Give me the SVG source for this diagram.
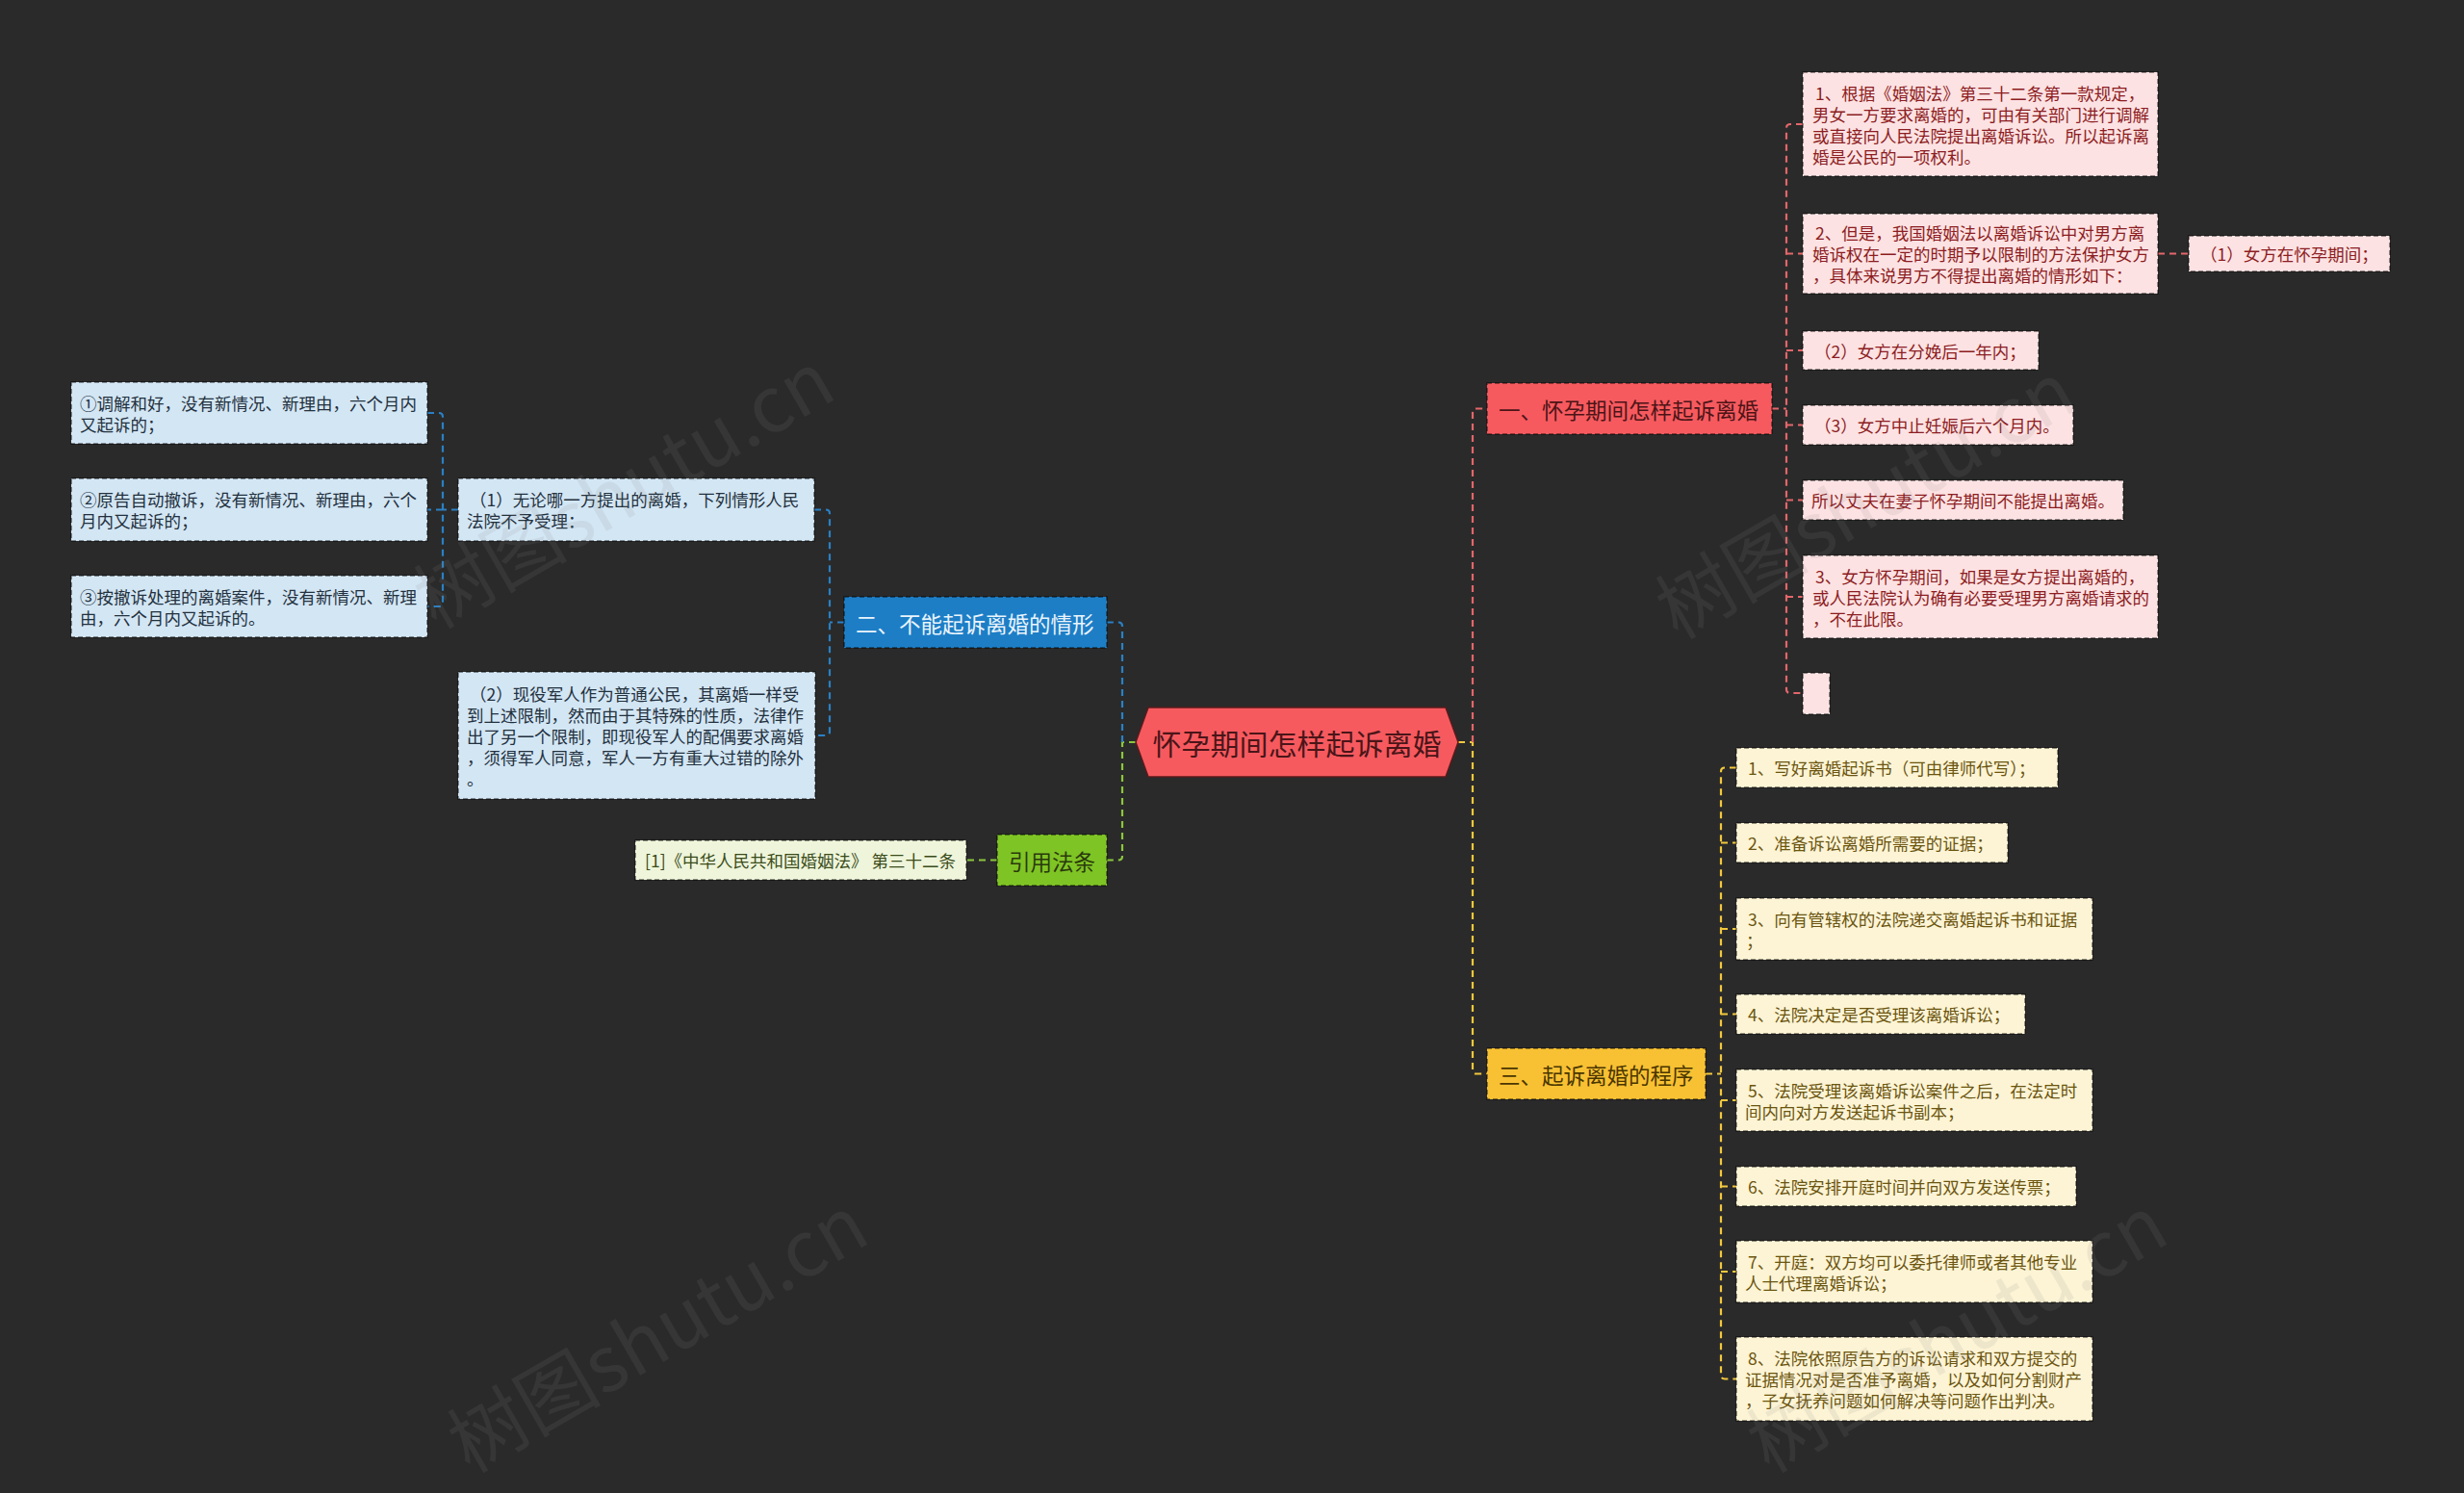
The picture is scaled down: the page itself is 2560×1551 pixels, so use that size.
<svg xmlns="http://www.w3.org/2000/svg" width="2560" height="1551" viewBox="0 0 2560 1551">
<style>
text{font-family:"Noto Sans CJK SC","Noto Sans",sans-serif;dominant-baseline:central}
.box{stroke:rgba(0,0,0,0.55);stroke-width:1.5;stroke-dasharray:5 3}
.pink{fill:#fde2e3}.pt{fill:#8c1d22;font-size:17.5px}
.cream{fill:#fdf4d5}.ct{fill:#6b5510;font-size:17.5px}
.lb{fill:#d3e6f4}.lbt{fill:#23313e;font-size:17.5px}
.lg{fill:#eef5da}.lgt{fill:#3b4c1b;font-size:17.5px}
.br{font-size:22.5px}
.c{fill:none;stroke-width:2.2;stroke-dasharray:7 5}
.cr{stroke:#e3666a}.cy{stroke:#f2c83c}.cb{stroke:#2b80c4}.cg{stroke:#8cc63f}
.wm{font-size:80px;fill:#8a8a8a;fill-opacity:0.13;font-family:"Noto Sans CJK SC",sans-serif}
</style>
<rect width="2560" height="1551" fill="#2a2a2a"/>

<g id="connectors">
  <path class="c cy" d="M1515,771 H1530 V1111.5 Q1530,1115.5 1534,1115.5 H1545"/>
  <path class="c cr" d="M1530,771 V428.5 Q1530,424.5 1534,424.5 H1545"/>
  <path class="c cg" d="M1180,771 H1166 V889.5 Q1166,893.5 1162,893.5 H1150"/>
  <path class="c cb" d="M1166,771 V650.5 Q1166,646.5 1162,646.5 H1150"/>
  <path class="c cr" d="M1841,424.5 H1856"/>
  <path class="c cr" d="M1873,129 H1860 Q1856,129 1856,133 V716 Q1856,720 1860,720 H1873"/>
  <path class="c cr" d="M1856,263.5 H1873 M1856,364 H1873 M1856,441.5 H1873 M1856,519.5 H1873 M1856,620 H1873"/>
  <path class="c cr" d="M2242,263.5 H2274"/>
  <path class="c cy" d="M1772,1115.5 H1788"/>
  <path class="c cy" d="M1804,797.5 H1792 Q1788,797.5 1788,801.5 V1428.5 Q1788,1432.5 1792,1432.5 H1804"/>
  <path class="c cy" d="M1788,875.5 H1804 M1788,965 H1804 M1788,1053.5 H1804 M1788,1143 H1804 M1788,1232.5 H1804 M1788,1321 H1804"/>
  <path class="c cb" d="M877,646.5 H862"/>
  <path class="c cb" d="M846,529.5 H858 Q862,529.5 862,533.5 V760 Q862,764 858,764 H847"/>
  <path class="c cb" d="M476,529.5 H460"/>
  <path class="c cb" d="M444,429 H456 Q460,429 460,433 V626 Q460,630 456,630 H444"/>
  <path class="c cb" d="M460,529.5 H444"/>
  <path class="c cg" d="M1036,893.5 H1004"/>
</g>

<g id="root">
  <polygon points="1180,771 1193,735 1502,735 1515,771 1502,807 1193,807" fill="#f65a5f" stroke="#5a1a1c" stroke-width="1.5"/>
  <text x="1347.5" y="771" text-anchor="middle" font-size="30" fill="#4a1518">怀孕期间怎样起诉离婚</text>
</g>

<g id="b1">
  <rect class="box" x="1545" y="398" width="296" height="53" fill="#f65a5f"/>
  <text class="br" x="1557" y="424.5" fill="#4d1416">一、怀孕期间怎样起诉离婚</text>
</g>
<g id="b1-1">
  <rect class="box pink" x="1873" y="75" width="369" height="108"/>
  <text class="pt" x="1886" y="96">1、根据《婚姻法》第三十二条第一款规定，</text>
  <text class="pt" x="1883" y="118">男女一方要求离婚的，可由有关部门进行调解</text>
  <text class="pt" x="1883" y="140">或直接向人民法院提出离婚诉讼。所以起诉离</text>
  <text class="pt" x="1883" y="162">婚是公民的一项权利。</text>
</g>
<g id="b1-2">
  <rect class="box pink" x="1873" y="222" width="369" height="83"/>
  <text class="pt" x="1886" y="241.5">2、但是，我国婚姻法以离婚诉讼中对男方离</text>
  <text class="pt" x="1883" y="263.5">婚诉权在一定的时期予以限制的方法保护女方</text>
  <text class="pt" x="1883" y="285.5">，具体来说男方不得提出离婚的情形如下：</text>
</g>
<g id="b1-2-1">
  <rect class="box pink" x="2274" y="245" width="209" height="37"/>
  <text class="pt" x="2286" y="263.5">（1）女方在怀孕期间；</text>
</g>
<g id="b1-3">
  <rect class="box pink" x="1873" y="344" width="245" height="40"/>
  <text class="pt" x="1885" y="364">（2）女方在分娩后一年内；</text>
</g>
<g id="b1-4">
  <rect class="box pink" x="1873" y="421" width="281" height="41"/>
  <text class="pt" x="1885" y="441.5">（3）女方中止妊娠后六个月内。</text>
</g>
<g id="b1-5">
  <rect class="box pink" x="1873" y="499" width="333" height="41"/>
  <text class="pt" x="1882" y="519.5">所以丈夫在妻子怀孕期间不能提出离婚。</text>
</g>
<g id="b1-6">
  <rect class="box pink" x="1873" y="577" width="369" height="86"/>
  <text class="pt" x="1886" y="598">3、女方怀孕期间，如果是女方提出离婚的，</text>
  <text class="pt" x="1883" y="620">或人民法院认为确有必要受理男方离婚请求的</text>
  <text class="pt" x="1883" y="642">，不在此限。</text>
</g>
<g id="b1-7">
  <rect class="box pink" x="1873" y="699" width="28" height="43"/>
</g>

<g id="b3">
  <rect class="box" x="1545" y="1089" width="227" height="53" fill="#f8c133"/>
  <text class="br" x="1557" y="1115.5" fill="#4a3600">三、起诉离婚的程序</text>
</g>
<g id="b3-1">
  <rect class="box cream" x="1804" y="777" width="334" height="41"/>
  <text class="ct" x="1816" y="797.5">1、写好离婚起诉书（可由律师代写）；</text>
</g>
<g id="b3-2">
  <rect class="box cream" x="1804" y="855" width="282" height="41"/>
  <text class="ct" x="1816" y="875.5">2、准备诉讼离婚所需要的证据；</text>
</g>
<g id="b3-3">
  <rect class="box cream" x="1804" y="933" width="370" height="64"/>
  <text class="ct" x="1816" y="954">3、向有管辖权的法院递交离婚起诉书和证据</text>
  <text class="ct" x="1814" y="976">；</text>
</g>
<g id="b3-4">
  <rect class="box cream" x="1804" y="1033" width="300" height="41"/>
  <text class="ct" x="1816" y="1053.5">4、法院决定是否受理该离婚诉讼；</text>
</g>
<g id="b3-5">
  <rect class="box cream" x="1804" y="1111" width="370" height="64"/>
  <text class="ct" x="1816" y="1132">5、法院受理该离婚诉讼案件之后，在法定时</text>
  <text class="ct" x="1813" y="1154">间内向对方发送起诉书副本；</text>
</g>
<g id="b3-6">
  <rect class="box cream" x="1804" y="1212" width="353" height="41"/>
  <text class="ct" x="1816" y="1232.5">6、法院安排开庭时间并向双方发送传票；</text>
</g>
<g id="b3-7">
  <rect class="box cream" x="1804" y="1289" width="370" height="64"/>
  <text class="ct" x="1816" y="1310">7、开庭：双方均可以委托律师或者其他专业</text>
  <text class="ct" x="1813" y="1332">人士代理离婚诉讼；</text>
</g>
<g id="b3-8">
  <rect class="box cream" x="1804" y="1389" width="370" height="87"/>
  <text class="ct" x="1816" y="1410.5">8、法院依照原告方的诉讼请求和双方提交的</text>
  <text class="ct" x="1813" y="1432.5">证据情况对是否准予离婚，以及如何分割财产</text>
  <text class="ct" x="1813" y="1454.5">，子女抚养问题如何解决等问题作出判决。</text>
</g>

<g id="b2">
  <rect class="box" x="877" y="620" width="273" height="53" fill="#1d7ec6"/>
  <text class="br" x="889" y="646.5" fill="#eaf4fc">二、不能起诉离婚的情形</text>
</g>
<g id="b2-1">
  <rect class="box lb" x="476" y="497" width="370" height="65"/>
  <text class="lbt" x="488" y="518.5">（1）无论哪一方提出的离婚，下列情形人民</text>
  <text class="lbt" x="485" y="540.5">法院不予受理：</text>
</g>
<g id="b2-1-1">
  <rect class="box lb" x="74" y="397" width="370" height="64"/>
  <text class="lbt" x="83" y="418">①调解和好，没有新情况、新理由，六个月内</text>
  <text class="lbt" x="83" y="440">又起诉的；</text>
</g>
<g id="b2-1-2">
  <rect class="box lb" x="74" y="497" width="370" height="65"/>
  <text class="lbt" x="83" y="518.5">②原告自动撤诉，没有新情况、新理由，六个</text>
  <text class="lbt" x="83" y="540.5">月内又起诉的；</text>
</g>
<g id="b2-1-3">
  <rect class="box lb" x="74" y="598" width="370" height="64"/>
  <text class="lbt" x="83" y="619">③按撤诉处理的离婚案件，没有新情况、新理</text>
  <text class="lbt" x="83" y="641">由，六个月内又起诉的。</text>
</g>
<g id="b2-2">
  <rect class="box lb" x="476" y="698" width="371" height="132"/>
  <text class="lbt" x="488" y="720">（2）现役军人作为普通公民，其离婚一样受</text>
  <text class="lbt" x="485" y="742">到上述限制，然而由于其特殊的性质，法律作</text>
  <text class="lbt" x="485" y="764">出了另一个限制，即现役军人的配偶要求离婚</text>
  <text class="lbt" x="485" y="786">，须得军人同意，军人一方有重大过错的除外</text>
  <text class="lbt" x="485" y="808">。</text>
</g>

<g id="b4">
  <rect class="box" x="1036" y="867" width="114" height="53" fill="#7fc425"/>
  <text class="br" x="1048" y="893.5" fill="#2a3a0c">引用法条</text>
</g>
<g id="b4-1">
  <rect class="box lg" x="660" y="873" width="344" height="41"/>
  <text class="lgt" x="670" y="893.5">[1]《中华人民共和国婚姻法》 第三十二条</text>
</g>

<g id="watermark">
  <text class="wm" x="645" y="503" text-anchor="middle" transform="rotate(-30 645 503)">树图shutu.cn</text>
  <text class="wm" x="1935" y="514" text-anchor="middle" transform="rotate(-30 1935 514)">树图shutu.cn</text>
  <text class="wm" x="680" y="1380" text-anchor="middle" transform="rotate(-30 680 1380)">树图shutu.cn</text>
  <text class="wm" x="2030" y="1380" text-anchor="middle" transform="rotate(-30 2030 1380)">树图shutu.cn</text>
</g>
</svg>
